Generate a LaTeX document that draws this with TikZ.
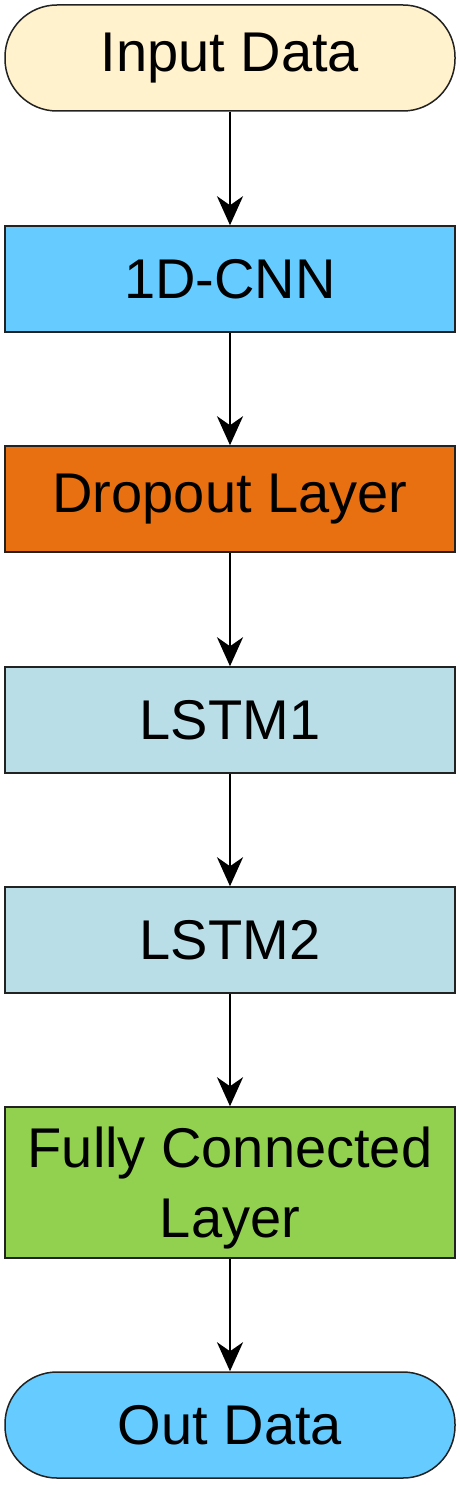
\documentclass[tikz,border=0pt]{standalone}
\usepackage{fontspec}
\setmainfont{Liberation Sans}
\usetikzlibrary{arrows.meta}
\definecolor{inputfill}{HTML}{FFF2CC}
\definecolor{cnnfill}{HTML}{66CCFF}
\definecolor{dropfill}{HTML}{E87010}
\definecolor{lstmfill}{HTML}{B9DEE8}
\definecolor{fcfill}{HTML}{92D050}
\definecolor{edge}{HTML}{222222}
\begin{document}
\begin{tikzpicture}[x=1pt,y=-1pt,
  box/.style={draw=edge, line width=1.5pt, minimum width=450pt, minimum height=106pt,
    inner sep=0pt, align=center, font=\fontsize{56}{70}\selectfont},
  term/.style={box, rounded corners=52pt},
  flow/.style={draw=black, line width=2.5pt, -{Stealth[length=29pt,width=26pt,inset=9pt]}}]
\useasboundingbox (0,0) rectangle (460,1485);
\node[term, fill=inputfill] (in) at (230,58) {Input Data};
\node[box, fill=cnnfill] (cnn) at (230,279) {1D-CNN};
\node[box, fill=dropfill] (drop) at (230,499) {Dropout Layer};
\node[box, fill=lstmfill] (l1) at (230,720) {LSTM1};
\node[box, fill=lstmfill] (l2) at (230,940) {LSTM2};
\node[box, fill=fcfill, minimum height=151pt, text depth=0pt] (fc) at (230,1182.5) {Fully Connected\\Layer};
\node[term, fill=cnnfill] (out) at (230,1425) {Out Data};
\draw[flow] (in) -- (cnn);
\draw[flow] (cnn) -- (drop);
\draw[flow] (drop) -- (l1);
\draw[flow] (l1) -- (l2);
\draw[flow] (l2) -- (fc);
\draw[flow] (fc) -- (out);
\end{tikzpicture}
\end{document}
